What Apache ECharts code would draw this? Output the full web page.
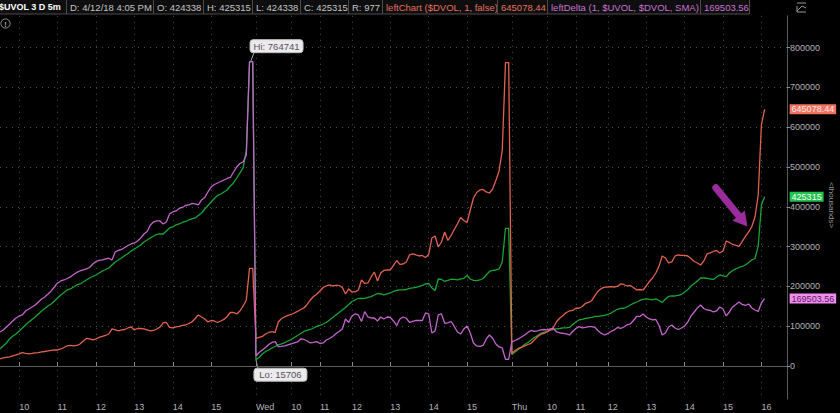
<!DOCTYPE html>
<html><head><meta charset="utf-8">
<script src="https://cdn.jsdelivr.net/npm/echarts@6/dist/echarts.min.js"></script>
<style>html,body{margin:0;padding:0;background:#000;overflow:hidden}#c{width:840px;height:413px}</style>
</head><body><div id="c"></div>
<script>
// ---- data (5-minute bars, 3 sessions of 80 bars: 9:30 .. 16:05) ----
const sessions = ['Tue', 'Wed', 'Thu'];
const uvol = [
42700,50300,57800,67900,75400,80400,88000,95500,103000,110600,
116900,123100,130700,138200,144500,150800,155800,163300,170900,178400,
184700,191000,193500,198500,203600,206100,211100,216100,221100,224900,
228700,233700,238700,242500,246300,253800,261300,266400,271400,277700,
282700,289000,294000,299000,304100,311600,316600,321700,326700,330500,
331700,331700,339300,346800,349300,354300,356800,360600,363100,366900,
369400,371900,378200,384500,394500,403300,412100,420900,428500,432200,
437300,442300,452300,459900,472400,485000,497600,542800,764741,764741,
15706,21400,30200,36400,40200,45200,49000,52800,55300,58600,
62800,66600,71600,76600,81700,86700,89200,91700,95500,99300,
101800,105500,109300,115600,121900,128200,134400,140700,147000,154500,
162100,165900,170100,169600,170100,172100,174100,178400,182200,180900,
178400,180900,183400,187200,189700,191000,191000,192200,194800,196000,
197300,199800,202300,206100,207300,196000,189700,218600,217400,212300,
214900,217900,217400,216100,218600,220400,227400,218600,214900,214400,
216100,219900,228700,237500,240000,241200,243800,261400,346000,346000,
28900,35200,41500,47700,54000,59100,65300,71600,76600,81700,
84200,86700,90500,91700,93000,94200,95500,95500,96800,104300,
110600,115600,116900,119400,120600,121900,124400,124400,125700,126900,
129400,133200,138200,142500,144500,145000,148300,153300,157100,160800,
164600,167100,168400,167100,165900,168400,164600,159600,168400,174700,
175900,175900,177200,179700,186000,192200,201000,207300,213600,221100,
221100,220400,218600,217400,223700,228700,226200,224400,233700,240000,
243800,247500,250000,253800,260100,266400,270100,301600,404600,425315
];
const dvol = [
17600,20100,21400,22600,25100,27600,30200,33400,31400,30200,
31400,32700,33400,35200,36400,37700,39000,40200,40200,42700,
46500,50300,51500,50300,51500,55300,62800,69100,67900,65300,
67900,71600,74100,76600,80400,93000,90500,88000,90500,91700,
95500,98000,90500,94200,94200,93000,90500,88000,89200,93000,
98000,108100,109300,96800,95500,98000,99300,101800,103000,106800,
110600,119400,128200,123100,118100,110600,114300,113100,109300,113100,
116900,124400,134400,134400,130700,138200,150800,165900,245500,245500,
69100,71600,74100,80400,84200,86200,84200,110600,119400,123600,
126900,129400,133200,137000,142000,145800,154500,165900,174700,180200,
188500,197300,201000,203600,201000,202300,202300,197300,180900,193500,
186000,186000,191000,216100,207300,208600,223700,236200,213600,233700,
240000,241200,241200,252600,265100,255100,256300,261400,278900,281500,
278900,276400,277700,272700,280200,321700,326700,299000,311600,336700,
315400,327900,343000,357300,373200,365600,360600,392000,422200,436000,
442300,443600,437300,434700,444800,466200,490000,542800,762500,762500,
31900,39000,44000,46500,50300,54000,57000,65300,73600,79200,
81700,85400,90000,96800,111800,120600,126900,134400,138200,139500,
145000,145000,149500,157100,159600,164600,177200,188500,194800,198000,
198500,199300,198500,199800,206100,204800,201000,202300,197300,191000,
192200,191000,201000,212300,221100,233700,251300,276400,271400,258800,
261400,276400,278900,277700,277700,276400,270100,262600,258800,253800,
263900,281500,284000,287700,290300,284000,289000,314100,310400,305300,
302800,300300,312900,325400,336700,350600,374400,429700,605600,645078.44
];
const delta = [
85400,90500,98000,105500,113100,120600,125700,128200,138200,143200,
148300,153300,160800,168400,173400,180900,188500,198500,208600,213600,
216100,219900,223700,229900,235000,238700,241200,243800,247500,256300,
262600,265100,266400,268900,270700,266400,286500,290300,292800,297800,
302800,306600,309100,314100,321700,331700,338000,354300,361900,364400,
364400,356800,361900,382000,387000,389500,395800,398300,403300,404600,
408400,407100,404600,417200,423400,437300,449800,456100,459900,463600,
467400,471200,473700,487500,500100,508900,512700,530200,764741,764741,
25100,33900,40200,46500,54000,59100,61100,48500,49000,50300,
52800,55300,57800,60300,67900,66600,62800,57800,59100,61100,
56500,57800,65300,69100,74100,80900,86700,93000,118100,109300,
125700,130700,128200,111800,136500,123100,120600,120600,113100,123100,
118100,123100,121900,113100,101800,118100,123100,119900,109300,111800,
114300,114300,114300,133200,130700,82900,88000,128200,130700,107300,
108100,111800,99300,85400,80400,93000,100500,82900,57800,50300,
49000,51500,67900,77900,69600,55300,47700,45200,16800,16800,
60300,64100,67900,72900,77900,84200,89200,86700,88000,90500,
91700,90500,93000,94200,85400,82900,82200,80400,77900,86700,
94200,98800,95500,96800,98800,98800,96800,88000,81700,77900,
81700,86700,90500,96800,94200,98000,103500,105500,114300,124400,
124400,130700,123100,118100,115600,116900,101800,77900,82900,98000,
103000,95500,91700,95500,100500,110600,125700,135700,145800,153300,
144500,140700,139500,135700,138200,148300,143200,125700,135700,148300,
154500,160800,154500,152000,155800,145800,140700,137000,158300,169503.56
];
// x tick marks (bar index) and their labels as drawn on the reference
const xTickIdx  = [6,18,30,42,54,66,80,91,100,110,122,134,146,160,171,180,190,202,214,226,238];
const xTickText = ['10','11','12','13','14','15','Wed','10','11','12','13','14','15','Thu','10','11','12','13','14','15','16'];
// header strip
const headerCells = [
  {t:'$UVOL 3 D 5m', c:'#ffffff', b:true},
  {t:'D: 4/12/18 4:05 PM', c:'#c4c4c4'},
  {t:'O: 424338', c:'#c4c4c4'},
  {t:'H: 425315', c:'#c4c4c4'},
  {t:'L: 424338', c:'#c4c4c4'},
  {t:'C: 425315', c:'#c4c4c4'},
  {t:'R: 977', c:'#c4c4c4'},
  {t:'leftChart ($DVOL, 1, false)', c:'#e8705e'},
  {t:'645078.44', c:'#e8705e'},
  {t:'leftDelta (1, $UVOL, $DVOL, SMA)', c:'#c874d2'},
  {t:'169503.56', c:'#c874d2'}
];
const headerEdges = [-2,66,153,203,252,300,348,382,497,547,700,749];

// ---- build ----
const cats = [];
sessions.forEach(d => { for (let k = 0; k < 80; k++) { const m = 570 + 5*k; cats.push(d + ' ' + Math.floor(m/60) + ':' + String(m%60).padStart(2,'0')); } });
for (let k = 0; k < 7; k++) cats.push('');
const tickMap = {}; xTickIdx.forEach((i, j) => tickMap[i] = xTickText[j]);
const isTick = (i) => tickMap[i] !== undefined;

const FONT = '"Liberation Sans", Arial, sans-serif';
const GREEN = '#17a535', RED = '#e2624f', PURPLE = '#c465cc';

const chart = echarts.init(document.getElementById('c'), null, {renderer: 'svg'});
const endLab = (bg, fg) => ({
  show: true, distance: 25, formatter: p => String(p.value),
  backgroundColor: bg, color: fg, fontFamily: FONT, fontSize: 9, lineHeight: 10, padding: [0, 2]
});
chart.setOption({
  animation: false,
  backgroundColor: '#000',
  grid: {left: -2.5, right: 53, top: 15.8, bottom: 14},
  xAxis: {
    type: 'category', data: cats, boundaryGap: false,
    axisLine: {lineStyle: {color: '#5a5a5a'}},
    axisTick: {inside: true, length: 4, interval: isTick, lineStyle: {color: '#8a8a8a'}},
    axisLabel: {interval: isTick, formatter: (v, i) => tickMap[i] || '', align: 'left', color: '#b4b4b4',
      fontFamily: FONT, fontSize: 9, margin: 3},
    splitLine: {show: true, interval: isTick, lineStyle: {type: [1, 5], color: '#4e4e4e'}}
  },
  yAxis: {
    type: 'value', position: 'right', min: -83000, max: 880000, splitNumber: 10,
    axisLine: {show: true, lineStyle: {color: '#5a5a5a'}},
    axisTick: {show: true, length: 3, lineStyle: {color: '#8a8a8a'}},
    axisLabel: {color: '#b4b4b4', fontFamily: FONT, fontSize: 9, margin: 3, showMinLabel: false, showMaxLabel: false,
      formatter: v => (v % 100000 === 0 ? String(v) : '')},
    splitLine: {show: true, showMinLine: false, showMaxLine: false, lineStyle: {type: [1, 5], color: '#4e4e4e'}}
  },
  series: [
    {name: '$UVOL', type: 'line', data: uvol, showSymbol: false, lineStyle: {color: GREEN, width: 1.3}, itemStyle: {color: GREEN},
      endLabel: endLab('#1fc24a', '#ffffff'), z: 2},
    {name: 'leftChart', type: 'line', data: dvol, showSymbol: false, lineStyle: {color: RED, width: 1.3}, itemStyle: {color: RED},
      endLabel: endLab('#f0725f', '#ffe8e4'), z: 3},
    {name: 'leftDelta', type: 'line', data: delta, showSymbol: false, lineStyle: {color: PURPLE, width: 1.3}, itemStyle: {color: PURPLE},
      endLabel: endLab('#f08ef0', '#5e1a60'), z: 4}
  ]
});

// ---- annotations anchored to data ----
const g = [];
// header
headerCells.forEach((h, i) => {
  const x0 = headerEdges[i], x1 = headerEdges[i + 1];
  g.push({type: 'rect', shape: {x: x0 + 0.5, y: -1, width: x1 - x0, height: 15}, style: {fill: '#0e0e0e', stroke: '#4a4a4a', lineWidth: 1}});
  g.push({type: 'text', x: h.b ? -1 : x0 + 4, y: 7, style: {text: h.t, fill: h.c, font: (h.b ? 'bold 9px ' : '9.5px ') + FONT, align: 'left', verticalAlign: 'middle'}});
});
// alert icon
g.push({type: 'circle', shape: {cx: 5.5, cy: 23.5, r: 4.6}, style: {fill: 'none', stroke: '#9a9a9a', lineWidth: 1}});
g.push({type: 'text', x: 5.5, y: 24, style: {text: '!', fill: '#b0b0b0', font: 'bold 7px ' + FONT, align: 'center', verticalAlign: 'middle'}});
// corner icon
g.push({type: 'polyline', shape: {points: [[797, 3], [806, 3]]}, style: {stroke: '#9a9a9a', lineWidth: 1}});
g.push({type: 'polyline', shape: {points: [[797, 6], [797, 12], [806, 12]]}, style: {stroke: '#9a9a9a', lineWidth: 1, fill: 'none'}});
g.push({type: 'polyline', shape: {points: [[797, 11], [802, 6], [806, 8]]}, style: {stroke: '#9a9a9a', lineWidth: 1, fill: 'none'}});
// axis unit
g.push({type: 'text', x: 831, y: 205, rotation: -Math.PI / 2,
  style: {text: '<thousands>', fill: '#9a9a9a', font: '8px ' + FONT, align: 'center', verticalAlign: 'middle'}});

// Hi / Lo callouts
const hiVal = Math.max(...uvol), hiIdx = uvol.indexOf(hiVal);
const loVal = Math.min(...uvol), loIdx = uvol.indexOf(loVal);
const ph = chart.convertToPixel({seriesIndex: 0}, [hiIdx, hiVal]);
const pl = chart.convertToPixel({seriesIndex: 0}, [loIdx, loVal]);
function callout(px, py, bx, by, label) {
  g.push({type: 'line', shape: {x1: px, y1: py, x2: bx + 4, y2: by}, style: {stroke: '#aaaaaa', lineWidth: 1}});
  g.push({type: 'rect', shape: {x: bx, y: by < py ? by - 13 : by, width: 53, height: 13, r: 3},
    style: {fill: '#ebebeb', stroke: '#bdbdbd', lineWidth: 1}});
  g.push({type: 'text', x: bx + 26.5, y: (by < py ? by - 6.5 : by + 6.5),
    style: {text: label, fill: '#5c4d66', font: '9.5px ' + FONT, align: 'center', verticalAlign: 'middle'}});
}
callout(ph[0] + 1, ph[1], ph[0] + 0.5, ph[1] - 9, 'Hi: ' + hiVal);
callout(pl[0], pl[1], pl[0] - 2, pl[1] + 8.5, 'Lo: ' + loVal);

// arrow pointing at the late-session DVOL climb
const pa = chart.convertToPixel({seriesIndex: 1}, [233, dvol[233]]);
const tip = [pa[0] + 2, pa[1] - 10];
const dir = [0.632, 0.775], per = [-0.775, 0.632];
const base = [tip[0] - 14 * dir[0], tip[1] - 14 * dir[1]];
const tail = [tip[0] - 50 * dir[0], tip[1] - 50 * dir[1]];
const AR = '#9a2c9c';
g.push({type: 'line', shape: {x1: tail[0], y1: tail[1], x2: base[0] + 1.5 * dir[0], y2: base[1] + 1.5 * dir[1]},
  style: {stroke: AR, lineWidth: 7, lineCap: 'round'}});
g.push({type: 'polygon', shape: {points: [tip, [base[0] + 8 * per[0], base[1] + 8 * per[1]], [base[0] - 8 * per[0], base[1] - 8 * per[1]]]},
  style: {fill: AR}});

chart.setOption({graphic: g});
</script>
</body></html>
